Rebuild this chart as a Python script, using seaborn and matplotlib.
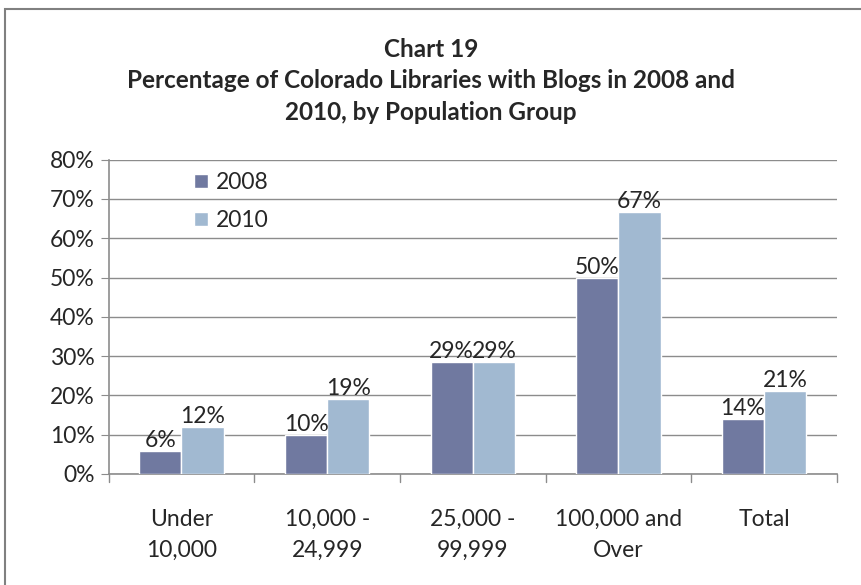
import pandas as pd
import numpy as np
import seaborn as sns
import matplotlib.pyplot as plt
from matplotlib.patches import Rectangle

# chart values
groups = ["Under\n10,000", "10,000 -\n24,999", "25,000 -\n99,999", "100,000 and\nOver", "Total"]
years = ["2008", "2010"]
pct_2008 = [5.9, 10.0, 28.6, 50.0, 13.9]
pct_2010 = [12.0, 19.0, 28.6, 66.7, 21.0]
labels_2008 = ["6%", "10%", "29%", "50%", "14%"]
labels_2010 = ["12%", "19%", "29%", "67%", "21%"]
colors = ["#7079A0", "#A1B9D1"]

df = pd.DataFrame({
    "group": groups * 2,
    "year": [years[0]] * 5 + [years[1]] * 5,
    "pct": pct_2008 + pct_2010,
})

sns.set_style("white")
plt.rcParams['font.family'] = ['Lato', 'DejaVu Sans']

fig = plt.figure(figsize=(8.62, 5.85), dpi=100)
ax = fig.add_axes([0.126, 0.19, 0.845, 0.537])

sns.barplot(data=df, x="group", y="pct", hue="year", palette=colors,
            width=0.58, saturation=1, ax=ax, zorder=3)

# data labels
for cont, labs in zip(ax.containers, [labels_2008, labels_2010]):
    ax.bar_label(cont, labels=labs, fontsize=16.5, padding=0)

ax.set_ylim(0, 80)
ax.set_yticks(range(0, 81, 10))
ax.set_yticklabels([f"{v}%" for v in range(0, 81, 10)], fontsize=16.5)
ax.set_xlim(-0.5, 4.5)
ax.set_xticks(range(5))
ax.set_xticklabels(groups, fontsize=16.5, linespacing=1.6)
ax.tick_params(axis="x", length=0, pad=25)
ax.tick_params(axis="y", length=6, color="#8c8c8c", direction="out", left=True, pad=4)
ax.set_xlabel("")
ax.set_ylabel("")
ax.yaxis.grid(True, color="#8c8c8c", linewidth=1, zorder=0)
ax.set_axisbelow(True)

# category separator ticks below the axis
for b in np.arange(-0.5, 5, 1.0):
    ax.plot([b, b], [0, -2.0], color="#8c8c8c", lw=1, clip_on=False)

for s in ["top", "right"]:
    ax.spines[s].set_visible(False)
for s in ["left", "bottom"]:
    ax.spines[s].set_color("#8c8c8c")
    ax.spines[s].set_linewidth(1.2)

leg = ax.legend(loc="upper left", bbox_to_anchor=(0.105, 0.99), frameon=False,
                fontsize=16.5, handlelength=0.6, handleheight=0.6, handletextpad=0.35,
                labelspacing=0.75, borderaxespad=0)

fig.text(0.5, 0.862, "Chart 19\nPercentage of Colorado Libraries with Blogs in 2008 and\n2010, by Population Group",
         ha="center", va="center", fontsize=17.5, fontweight="bold", linespacing=1.45)

# outer chart border
fig.patches.append(Rectangle((5 / 862, -0.1), 1.2, 1 - 9 / 585 + 0.1, transform=fig.transFigure,
                             fill=False, edgecolor="#808080", linewidth=1.5))

fig.savefig("out.png", dpi=100)
